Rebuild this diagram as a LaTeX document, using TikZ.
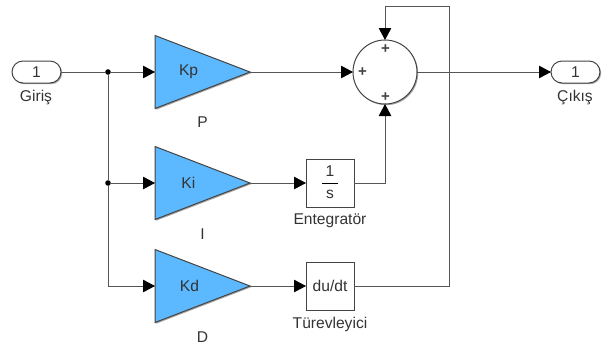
\documentclass[tikz,border=0pt]{standalone}
\usepackage{fontspec}
\setmainfont{Liberation Sans}
\usetikzlibrary{arrows.meta,shapes.geometric,shapes.misc,shadows}
\definecolor{wire}{HTML}{555555}
\definecolor{edgeblk}{HTML}{444444}
\definecolor{gainblue}{HTML}{5CB9FF}
\definecolor{txt}{HTML}{333333}
\tikzset{
  x=1pt,y=-1pt,
  every node/.style={font=\fontsize{15.6}{17}\selectfont,text=txt,inner sep=0pt,outer sep=0pt},
  softshadow/.style={drop shadow={shadow xshift=1.2pt,shadow yshift=-1.2pt,fill=black,opacity=.35}},
  wireline/.style={draw=wire,line width=.9pt},
  arrowline/.style={wireline,-{Triangle[length=12pt,width=12.5pt,color=black]}},
  port/.style={rounded rectangle,draw=edgeblk,line width=1pt,fill=white,minimum width=49pt,minimum height=22pt,softshadow},
  gain/.style={isosceles triangle,isosceles triangle stretches,shape border rotate=0,minimum width=73pt,minimum height=95pt,draw=edgeblk,line width=1pt,fill=gainblue,softshadow,anchor=apex},
  blockbox/.style={rectangle,draw=edgeblk,line width=1pt,fill=white,minimum width=48pt,minimum height=48pt,softshadow},
  sumnode/.style={circle,draw=edgeblk,line width=1pt,fill=white,minimum size=64pt,softshadow},
  junction/.style={circle,fill=black,minimum size=5.6pt},
  lbl/.style={},
  plus/.style={font=\fontsize{15}{15}\bfseries\selectfont,text=edgeblk}
}
\begin{document}
\begin{tikzpicture}
\useasboundingbox (0,0) rectangle (610,349);
\node[port] (in) at (36.5,72) {1};
\node[lbl] at (36,97.5) (inl) {Giriş};
\node[gain] (kp) at (250,72) {\hspace{12pt}Kp};
\node[gain] (ki) at (250,183) {\hspace{12pt}Ki};
\node[gain] (kd) at (250,286) {\hspace{12pt}Kd};
\node[lbl] (pl) at (202.5,122) {P};
\node[lbl] (il) at (202.5,234) {I};
\node[lbl] (dl) at (202.5,337) {D};
\node[blockbox] (int) at (330,183) {};
\node (one) at (330,171) {1};
\node (ess) at (330,194) {s};
\coordinate (fa) at (322,183);
\coordinate (fb) at (338,183);
\draw[draw=black,line width=1pt] (fa) -- (fb);
\node[blockbox] (der) at (330,286) {du/dt};
\node[lbl] (intl) at (330,221) {Entegratör};
\node[lbl] (derl) at (330,324.5) {Türevleyici};
\node[sumnode] (sum) at (385,72) {};
\node[plus] (p1) at (385.5,49) {+};
\node[plus] (p2) at (362.5,72.5) {+};
\node[plus] (p3) at (385.5,97) {+};
\node[port] (out) at (575.5,72) {1};
\node[lbl] (outl) at (575,97.5) {Çıkış};
\node[junction] (j1) at (108,72) {};
\node[junction] (j2) at (108,183) {};
\coordinate (c3) at (108,286);
\coordinate (fbr) at (449,286);
\coordinate (fbt) at (449,6);
\coordinate (fbl) at (385,6);
\coordinate (ic) at (385,183);
\draw[wireline] (in.east) -- (j1);
\draw[wireline] (j1) -- (j2) -- (c3);
\draw[arrowline] (j1) -- (kp.west|-j1);
\draw[arrowline] (j2) -- (ki.west|-j2);
\draw[arrowline] (c3) -- (kd.west|-c3);
\draw[arrowline] (kp.apex) -- (sum.west);
\draw[arrowline] (ki.apex) -- (int.west);
\draw[arrowline] (kd.apex) -- (der.west);
\draw[arrowline] (int.east) -- (ic) -- (sum.south);
\draw[arrowline] (der.east) -- (fbr) -- (fbt) -- (fbl) -- (sum.north);
\draw[arrowline] (sum.east) -- (out.west);
\end{tikzpicture}
\end{document}
